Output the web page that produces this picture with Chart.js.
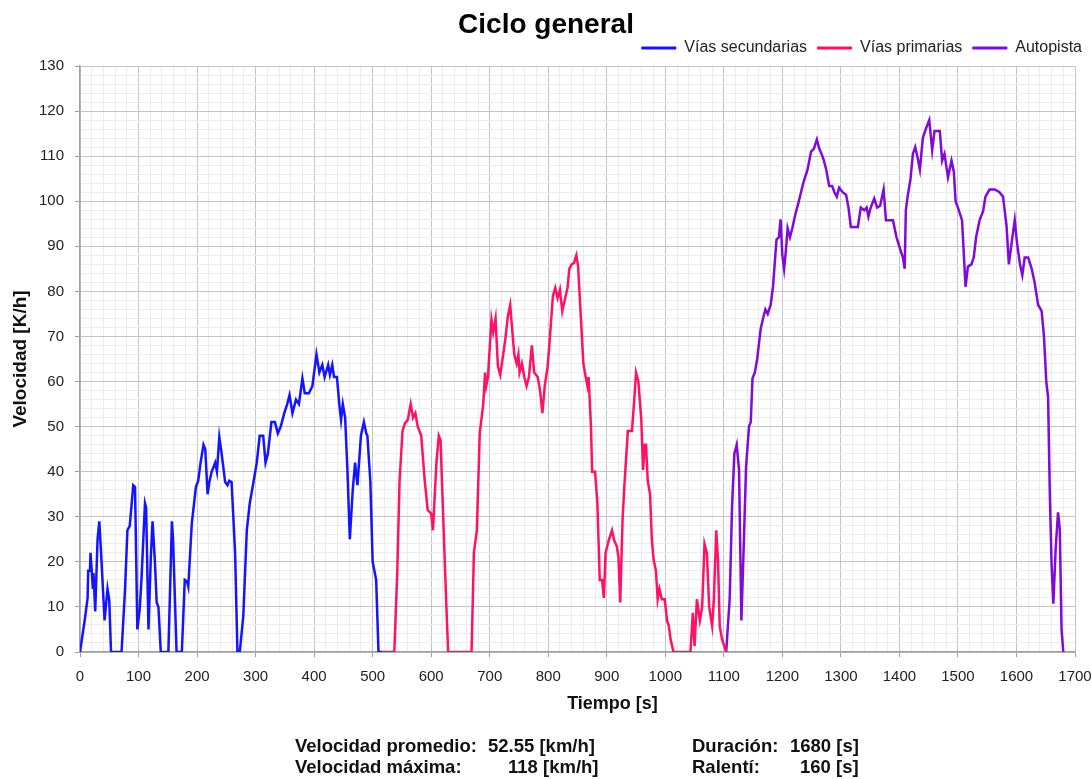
<!DOCTYPE html>
<html>
<head>
<meta charset="utf-8">
<script src="https://cdn.jsdelivr.net/npm/chart.js@4"></script>
<style>
  html, body { margin: 0; padding: 0; background: #fff; }
  #wrap { position: relative; width: 1092px; height: 779px; }
  #wrap canvas { position: absolute; left: 0; top: 0; }
  .stat { position: absolute; font: bold 18.5px 'Liberation Sans', Arial, sans-serif; color: #111; white-space: nowrap; line-height: 21px; }
</style>
</head>
<body>
<div id="wrap">
  <canvas id="cycleChart" width="1092" height="779"></canvas>
  <div class="stat" style="left:295px; top:735px;">Velocidad promedio:</div>
  <div class="stat" style="left:488px; top:735px;">52.55 [km/h]</div>
  <div class="stat" style="left:295px; top:756px;">Velocidad máxima:</div>
  <div class="stat" style="left:508px; top:756px;">118 [km/h]</div>
  <div class="stat" style="left:692px; top:735px;">Duración:</div>
  <div class="stat" style="left:790px; top:735px;">1680 [s]</div>
  <div class="stat" style="left:692px; top:756px;">Ralentí:</div>
  <div class="stat" style="left:800px; top:756px;">160 [s]</div>
</div>
<script>
// Ciclo general - velocidad vs tiempo, tres tramos

const SERIES_NAMES = ['Vías secundarias', 'Vías primarias', 'Autopista'];

// Vías secundarias
const secT = [0, 8, 13, 14, 17, 18, 20, 22, 23, 26, 30, 33, 36, 42, 47, 50, 53, 71, 77, 81,
  85, 91, 94, 98, 102, 105, 111, 113, 117, 121, 124, 128, 131, 134, 138, 151, 157, 159, 165, 174,
  179, 183, 185, 191, 198, 202, 206, 211, 214, 218, 221, 225, 231, 234, 238, 242, 248, 252, 255, 259,
  265, 269, 273, 279, 285, 290, 296, 302, 307, 313, 317, 321, 327, 333, 338, 343, 349, 354, 358, 363,
  369, 374, 380, 384, 391, 397, 404, 409, 414, 418, 424, 427, 431, 434, 439, 443, 446, 449, 453, 457,
  461, 466, 470, 474, 480, 485, 489, 491, 496, 500, 506, 510, 517];
const secV = [0, 7, 12, 18, 18, 22, 18, 14, 17.5, 9, 25, 29, 22, 7, 14, 11.5, 0, 0, 14, 27,
  28, 37, 36.6, 5, 9.4, 16, 33, 32, 5, 21, 29, 20, 11, 10, 0, 0, 29, 25, 0, 0,
  16, 15.6, 14.5, 28.5, 36.6, 38, 42, 46, 45, 35, 37.7, 40, 42, 40, 47.7, 44, 37.7, 37, 38, 37.7,
  22, 0, 0, 8, 27, 33, 37.4, 42, 48, 48, 42, 44, 51, 51, 48.5, 50, 53, 55, 57, 53,
  56, 55, 60.7, 57.4, 57.4, 59, 66, 62, 63.7, 61, 63.7, 61.5, 63.7, 61, 61, 55, 51.5, 55, 52, 40,
  25, 36, 42, 37, 48, 51, 48.5, 48, 38, 20, 16, 0, 0];

// Vías primarias
const priT = [517, 537, 542, 546, 551, 555, 560, 565, 569, 573, 577, 583, 589, 594, 600, 603, 609, 613, 616, 620,
  626, 629, 669, 673, 678, 683, 689, 692, 694, 697, 703, 706, 710, 714, 718, 723, 727, 731, 735, 737,
  742, 746, 749, 751, 755, 759, 763, 767, 772, 776, 782, 786, 790, 794, 799, 803, 808, 812, 816, 820,
  824, 828, 833, 836, 840, 844, 848, 851, 855, 860, 864, 867, 869, 873, 875, 880, 884, 888, 892, 895,
  898, 903, 909, 913, 917, 920, 923, 927, 930, 936, 943, 947, 950, 954, 959, 962, 965, 967, 970, 974,
  977, 980, 984, 987, 990, 994, 999, 1003, 1006, 1009, 1014, 1043, 1047, 1050, 1054, 1059, 1063, 1067, 1071, 1075,
  1080, 1083, 1087, 1090, 1093, 1097, 1104];
const priV = [0, 0, 17.4, 38, 49, 50.7, 51.5, 55, 52, 53, 50, 48, 38, 31.5, 30.7, 27, 42, 48, 47, 32,
  10, 0, 0, 22, 27, 48.6, 55, 62, 59, 61, 73.7, 71, 74, 63.4, 61.5, 66, 69.7, 74.5, 77, 73.7,
  66, 64, 66, 62, 64, 61, 59, 61, 68, 62, 61, 58, 53, 59, 63.4, 70, 79, 80.8, 78.5, 80.4,
  75.6, 78, 80.8, 85, 86, 86.3, 88, 85.6, 76, 64, 61, 59, 61, 50, 40, 40, 33, 16, 16, 12,
  22, 24.6, 27, 24.6, 23.5, 21, 11, 29.4, 36.7, 49, 49, 56, 62, 60, 51.5, 40.4, 46, 46, 38, 35,
  25, 20.5, 18, 11.7, 14, 11.7, 11.7, 7, 5.8, 2.8, 0, 0, 8.7, 1.3, 11.7, 7, 10, 24, 22, 10,
  5.8, 11.7, 27, 20.5, 5.8, 2.8, 0];

// Autopista
const autT = [1104, 1110, 1114, 1118, 1122, 1126, 1130, 1134, 1138, 1143, 1146, 1149, 1153, 1157, 1163, 1167, 1171, 1175, 1180, 1184,
  1190, 1194, 1197, 1200, 1203, 1206, 1209, 1213, 1217, 1222, 1227, 1233, 1237, 1243, 1249, 1254, 1259, 1263, 1267, 1271,
  1275, 1280, 1285, 1289, 1293, 1297, 1303, 1309, 1313, 1317, 1329, 1334, 1340, 1344, 1347, 1351, 1357, 1362, 1367, 1373,
  1377, 1389, 1395, 1401, 1406, 1409, 1411, 1414, 1419, 1423, 1427, 1431, 1435, 1440, 1445, 1451, 1456, 1460, 1469, 1473,
  1477, 1483, 1489, 1493, 1496, 1500, 1507, 1513, 1517, 1523, 1527, 1531, 1537, 1543, 1547, 1554, 1563, 1571, 1577, 1583,
  1587, 1593, 1597, 1601, 1606, 1610, 1614, 1620, 1626, 1631, 1637, 1643, 1647, 1651, 1654, 1657, 1660, 1663, 1667, 1671,
  1674, 1677, 1680];
const autV = [0, 11.7, 32, 44, 46, 40.4, 7, 23.5, 41, 50, 51, 60.7, 62, 65, 71.7, 74, 76, 75, 77, 81,
  91.5, 92, 96, 88, 85, 89, 94, 92, 94, 97, 99.4, 102.6, 104.6, 107, 111, 111.7, 113.7, 111.7, 110.5, 109,
  107, 103.4, 103.4, 102, 101, 103, 102, 101.4, 98.6, 94.3, 94.3, 98.6, 98, 98.6, 96.6, 98.6, 100.6, 98.6, 99, 102.6,
  95.8, 95.8, 92, 89.5, 87.5, 85, 98, 101, 105, 110.5, 112, 109.7, 107, 114, 116, 118, 111.3, 115.6, 115.6, 109,
  110.5, 105.3, 109, 106.5, 100, 98.6, 95.8, 81, 85.5, 86, 87.5, 92, 95.8, 97.8, 101, 102.6, 102.6, 102, 101, 94.6,
  86, 92, 95.8, 90.7, 86, 83.6, 87.5, 87.5, 85, 82, 77, 75.6, 70, 59.8, 56.6, 35, 19.4, 10.7, 23, 31,
  27.3, 5, 0];

const COLORS = {
  sec: '#1414ff',
  pri: '#ff1166',
  aut: '#800ad8',
  gridMajor: '#c4c4c4',
  gridMinor: '#ececec',
  axis: '#a0a0a0',
  text: '#222'
};

const toPoints = (ts, vs) => ts.map((t, i) => ({ x: t, y: vs[i] }));

const makeSeries = (label, ts, vs, color) => ({
  label: label,
  data: toPoints(ts, vs),
  borderColor: color,
  backgroundColor: color,
  borderWidth: 2.5,
  pointRadius: 0,
  tension: 0,
  fill: false
});

const isMajor = (ctx, step) => ctx.tick && Math.round(ctx.tick.value) % step === 0;

new Chart(document.getElementById('cycleChart'), {
  type: 'line',
  data: {
    datasets: [
      makeSeries(SERIES_NAMES[0], secT, secV, COLORS.sec),
      makeSeries(SERIES_NAMES[1], priT, priV, COLORS.pri),
      makeSeries(SERIES_NAMES[2], autT, autV, COLORS.aut)
    ]
  },
  options: {
    responsive: false,
    animation: false,
    layout: { padding: { top: 0, right: 0, bottom: 0, left: 0 } },
    plugins: {
      title: {
        display: true,
        text: 'Ciclo general',
        color: '#000',
        font: { family: "'Liberation Sans', Arial, sans-serif", size: 28, weight: 'bold' },
        padding: { top: 8, bottom: -11.6 }
      },
      legend: {
        display: true,
        align: 'end',
        labels: {
          color: '#222',
          font: { family: "'Liberation Sans', Arial, sans-serif", size: 16 },
          boxWidth: 35,
          boxHeight: 3,
          padding: 10,
          generateLabels: (chart) => Chart.defaults.plugins.legend.labels.generateLabels(chart)
            .map(l => ({ ...l, lineWidth: 0 }))
        }
      },
      tooltip: { enabled: false }
    },
    scales: {
      x: {
        type: 'linear',
        min: 0,
        max: 1700,
        afterFit: (scale) => { scale.height = 127; scale.paddingRight = 17; },
        ticks: {
          stepSize: 20,
          autoSkip: false,
          maxTicksLimit: 200,
          maxRotation: 0,
          padding: 11,
          color: COLORS.text,
          font: { family: "'Liberation Sans', Arial, sans-serif", size: 15 },
          callback: (v) => (v % 100 === 0 ? String(v) : '')
        },
        grid: {
          color: (ctx) => (isMajor(ctx, 100) ? COLORS.gridMajor : COLORS.gridMinor),
          tickColor: (ctx) => (isMajor(ctx, 100) ? COLORS.axis : 'rgba(0,0,0,0)'),
          tickLength: 5,
          lineWidth: 1
        },
        border: { color: COLORS.axis, width: 1.5 },
        title: {
          display: true,
          // leading spaces: the source centres this caption a little right of the plot
          text: '              Tiempo [s]',
          color: '#111',
          font: { family: "'Liberation Sans', Arial, sans-serif", size: 18, weight: 'bold' },
          padding: { top: 0, bottom: 64 }
        }
      },
      y: {
        type: 'linear',
        min: 0,
        max: 130,
        afterFit: (scale) => { scale.width = 80; },
        ticks: {
          stepSize: 2,
          autoSkip: false,
          maxTicksLimit: 200,
          padding: 11,
          color: COLORS.text,
          font: { family: "'Liberation Sans', Arial, sans-serif", size: 15 },
          callback: (v) => (v % 10 === 0 ? String(v) : '')
        },
        grid: {
          color: (ctx) => (isMajor(ctx, 10) ? COLORS.gridMajor : COLORS.gridMinor),
          tickColor: (ctx) => (isMajor(ctx, 10) ? COLORS.axis : 'rgba(0,0,0,0)'),
          tickLength: 5,
          lineWidth: 1
        },
        border: { color: COLORS.axis, width: 1.5 },
        title: {
          display: true,
          text: 'Velocidad [K/h]',
          color: '#111',
          font: { family: "'Liberation Sans', Arial, sans-serif", size: 19, weight: 'bold' },
          padding: { top: 9, bottom: 0 }
        }
      }
    }
  }
});
</script>
</body>
</html>
